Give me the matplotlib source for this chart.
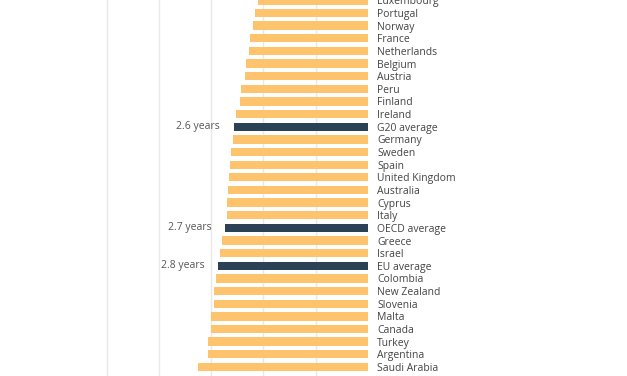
import numpy as np
import matplotlib
matplotlib.use("Agg")
import matplotlib.pyplot as plt

plt.rcParams['font.family'] = ['Open Sans', 'DejaVu Sans']

countries = ["Luxembourg", "Portugal", "Norway", "France", "Netherlands", "Belgium",
             "Austria", "Peru", "Finland", "Ireland", "G20 average", "Germany",
             "Sweden", "Spain", "United Kingdom", "Australia", "Cyprus", "Italy",
             "OECD average", "Greece", "Israel", "EU average", "Colombia",
             "New Zealand", "Slovenia", "Malta", "Canada", "Turkey", "Argentina",
             "Saudi Arabia"]
years = [2.10, 2.16, 2.20, 2.26, 2.28, 2.33, 2.35, 2.43, 2.45, 2.52, 2.57, 2.58,
         2.62, 2.64, 2.66, 2.68, 2.70, 2.70, 2.73, 2.79, 2.83, 2.86, 2.91,
         2.94, 2.94, 3.00, 3.00, 3.06, 3.06, 3.25]
avg_labels = {"G20 average": "2.6 years", "OECD average": "2.7 years",
              "EU average": "2.8 years"}

orange = "#FDC46D"
navy = "#2B4156"

fig = plt.figure(figsize=(6.27, 3.76), dpi=100)
ax = fig.add_axes([0, 0, 368 / 627, 1])

y = np.arange(len(countries))
colors = [navy if c in avg_labels else orange for c in countries]
ax.barh(y, years, height=0.66, color=colors, zorder=3)

for i, c in enumerate(countries):
    if c in avg_labels:
        ax.annotate(avg_labels[c], xy=(years[i], i), xytext=(-10, 0),
                    textcoords="offset points", ha="right", va="center",
                    fontsize=7.5, color="#555555")

ax.set_xlim(7.04, 0)
ax.set_ylim(29.72, -0.03)
ax.set_xticks([1, 2, 3, 4, 5])
ax.grid(axis="x", color="#e9e9e9", linewidth=1, zorder=0)
ax.tick_params(axis="x", bottom=False, labelbottom=False)

ax.yaxis.tick_right()
ax.set_yticks(y)
ax.set_yticklabels(countries, fontsize=7.5, color="#444444")
ax.tick_params(axis="y", length=0, pad=6.5)

for s in ax.spines.values():
    s.set_visible(False)

fig.savefig("out.png", dpi=100)
